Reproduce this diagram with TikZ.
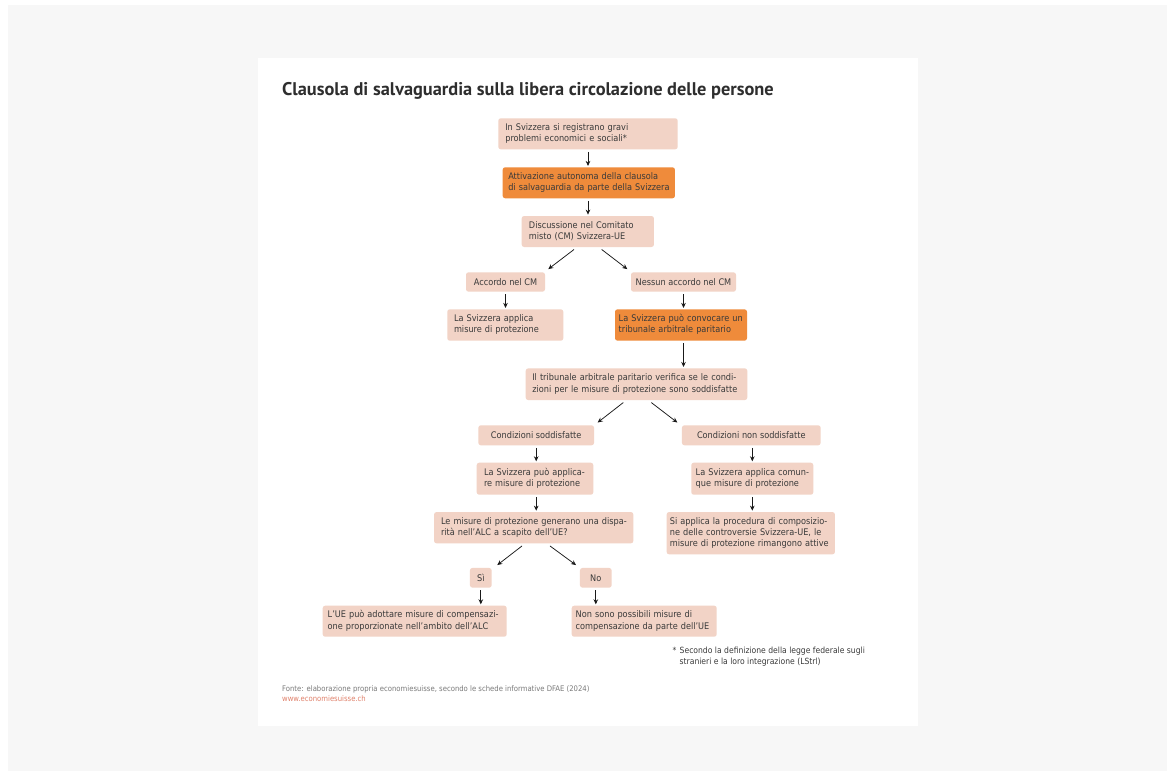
\documentclass[tikz,border=0pt]{standalone}
\usepackage{fontspec}
\setmainfont{DejaVu Sans Condensed}
\newfontfamily\titlefont{PT Sans}
\usetikzlibrary{arrows.meta}
\definecolor{pagebg}{HTML}{F7F7F7}
\definecolor{boxfill}{HTML}{F2D3C6}
\definecolor{boxhot}{HTML}{EF8B3B}
\definecolor{ink}{HTML}{3A3A3A}
\definecolor{srcgray}{HTML}{7A7A7A}
\definecolor{linkcol}{HTML}{E0806A}
% lines of a box, set without automatic breaking
\newcommand\boxlines[1]{\begin{tabular}[c]{@{}l@{}}#1\end{tabular}}
\newcommand\notelines[1]{\begin{tabular}[t]{@{}l@{}}#1\end{tabular}}
\begin{document}
\begin{tikzpicture}[x=1pt,y=-1pt,
  txt/.style={font=\fontsize{9.1}{11.4}\selectfont, text=ink},
  box/.style={txt, fill=boxfill, rounded corners=2.5pt, inner xsep=7pt, inner ysep=0pt, align=left},
  hot/.style={box, fill=boxhot},
  cbox/.style={txt, fill=boxfill, rounded corners=2.5pt, inner xsep=2pt, inner ysep=0pt, align=center},
  conn/.style={-{Stealth[length=5pt,width=4.6pt]}, line width=0.75pt, black!90, shorten <=2.3pt, shorten >=1.2pt},
  dconn/.style={-{Stealth[length=5pt,width=4.6pt]}, line width=0.75pt, black!90},
  note/.style={font=\fontsize{8.5}{11}\selectfont, text=ink, inner sep=0pt}]

% canvas and white panel
\useasboundingbox (0,0) rectangle (1167,771);
\fill[pagebg] (8,5) rectangle (1167,771);
\fill[white] (258,58) rectangle (918,725.7);

% title
\node[anchor=base west, inner sep=0pt, text=ink!80!black, font=\titlefont\fontsize{18.35}{21}\selectfont\bfseries] (title) at (282,95)
  {Clausola di salvaguardia sulla libera circolazione delle persone};

% boxes
\node[box, inner xsep=7pt, text width=165.4pt, minimum height=31pt] (n1) at (588,133.8)
  {\boxlines{In Svizzera si registrano gravi\\problemi economici e sociali*}};
\node[hot, inner xsep=5.6pt, text width=161.1pt, minimum height=31pt] (n2) at (588.8,182.8)
  {\boxlines{Attivazione autonoma della clausola\\di salvaguardia da parte della Svizzera}};
\node[box, inner xsep=7.3pt, text width=117.7pt, minimum height=31pt] (n3) at (587.8,231.5)
  {\boxlines{Discussione nel Comitato\\misto (CM) Svizzera-UE}};
\node[cbox, minimum width=79pt, minimum height=19.4pt] (n4) at (505.5,282)
  {Accordo nel CM};
\node[cbox, minimum width=105pt, minimum height=19.4pt] (n5) at (683.5,282)
  {Nessun accordo nel CM};
\node[box, inner xsep=6.7pt, text width=102.6pt, minimum height=31.4pt] (n6) at (505.3,325)
  {\boxlines{La Svizzera applica\\misure di protezione}};
\node[hot, inner xsep=3.7pt, text width=124.6pt, minimum height=31.4pt] (n7) at (681,325)
  {\boxlines{La Svizzera può convocare un\\tribunale arbitrale paritario}};
\node[box, inner xsep=6.6pt, text width=208.4pt, minimum height=31.7pt] (n8) at (636.5,384.2)
  {\boxlines{Il tribunale arbitrale paritario verifica se le condi-\\zioni per le misure di protezione sono soddisfatte}};
\node[cbox, minimum width=115.7pt, minimum height=20pt] (n9) at (536.2,435.3)
  {Condizioni soddisfatte};
\node[cbox, minimum width=138.7pt, minimum height=20pt] (n10) at (751.3,435.3)
  {Condizioni non soddisfatte};
\node[box, inner xsep=7.3pt, text width=102pt, minimum height=32pt] (n11) at (535,478.7)
  {\boxlines{La Svizzera può applica-\\re misure di protezione}};
\node[box, inner xsep=4.4pt, text width=113.2pt, minimum height=32pt] (n12) at (752.3,478.7)
  {\boxlines{La Svizzera applica comun-\\que misure di protezione}};
\node[box, inner xsep=7pt, text width=185.3pt, minimum height=31.3pt] (n13) at (533.7,527.7)
  {\boxlines{Le misure di protezione generano una dispa-\\rità nell’ALC a scapito dell’UE?}};
\node[box, inner xsep=3.3pt, text width=161.7pt, minimum height=42.3pt] (n14) at (750.8,533.2)
  {\boxlines{Si applica la procedura di composizio-\\ne delle controversie Svizzera-UE, le\\misure di protezione rimangono attive}};
\node[cbox, minimum width=21.7pt, minimum height=19.7pt] (n15) at (480.8,577.8)
  {Sì};
\node[cbox, minimum width=31.7pt, minimum height=19.7pt] (n16) at (595.8,577.8)
  {No};
\node[box, inner xsep=5pt, text width=174pt, minimum height=31pt] (n17) at (414.7,621.2)
  {\boxlines{L’UE può adottare misure di compensazi-\\one proporzionate nell’ambito dell’ALC}};
\node[box, inner xsep=4pt, text width=137pt, minimum height=31pt] (n18) at (644.2,621.2)
  {\boxlines{Non sono possibili misure di\\compensazione da parte dell’UE}};

% straight connectors
\draw[conn] (n1.south) -- (n1.south |- n2.north);
\draw[conn] (n2.south -| n1.south) -- (n1.south |- n3.north);
\draw[conn] (n4.south) -- (n4.south |- n6.north);
\draw[conn] (n5.south) -- (n5.south |- n7.north);
\draw[conn] (n5.south |- n7.south) -- (n5.south |- n8.north);
\draw[conn] (n9.south) -- (n9.south |- n11.north);
\draw[conn] (n12.north |- n10.south) -- (n12.north);
\draw[conn] (n9.south |- n11.south) -- (n9.south |- n13.north);
\draw[conn] (n12.south) -- (n12.south |- n14.north);
\draw[conn] (n15.south) -- (n15.south |- n17.north);
\draw[conn] (n16.south) -- (n16.south |- n18.north);

% branching connectors
\draw[dconn] ([xshift=-13.8pt,yshift=-2.3pt]n3.south) -- ([xshift=42.8pt,yshift=3pt]n4.north);
\draw[dconn] ([xshift=13.9pt,yshift=-2.3pt]n3.south) -- ([xshift=-56.2pt,yshift=3pt]n5.north);
\draw[dconn] ([xshift=-13.2pt,yshift=-2.3pt]n8.south) -- ([xshift=61.5pt,yshift=2.6pt]n9.north);
\draw[dconn] ([xshift=14.8pt,yshift=-2.3pt]n8.south) -- ([xshift=-74pt,yshift=2.6pt]n10.north);
\draw[dconn] ([xshift=-11.7pt,yshift=-2.4pt]n13.south) -- ([xshift=16.5pt,yshift=2.7pt]n15.north);
\draw[dconn] ([xshift=16.3pt,yshift=-2.4pt]n13.south) -- ([xshift=-19.8pt,yshift=2.7pt]n16.north);

% footnote
\node[note, anchor=base west] (fnstar) at (672.5,653) {*};
\node[note, anchor=base west] (fntext) at (679.5,653)
  {\notelines{Secondo la definizione della legge federale sugli\\stranieri e la loro integrazione (LStrl)}};

% source
\node[anchor=base west, inner sep=0pt, text=srcgray, font=\fontsize{7.65}{10}\selectfont] (src) at (282,691)
  {Fonte: elaborazione propria economiesuisse, secondo le schede informative DFAE (2024)};
\node[anchor=base west, inner sep=0pt, text=linkcol, font=\fontsize{7.65}{10}\selectfont] (url) at (282,701)
  {www.economiesuisse.ch};
\end{tikzpicture}
\end{document}
